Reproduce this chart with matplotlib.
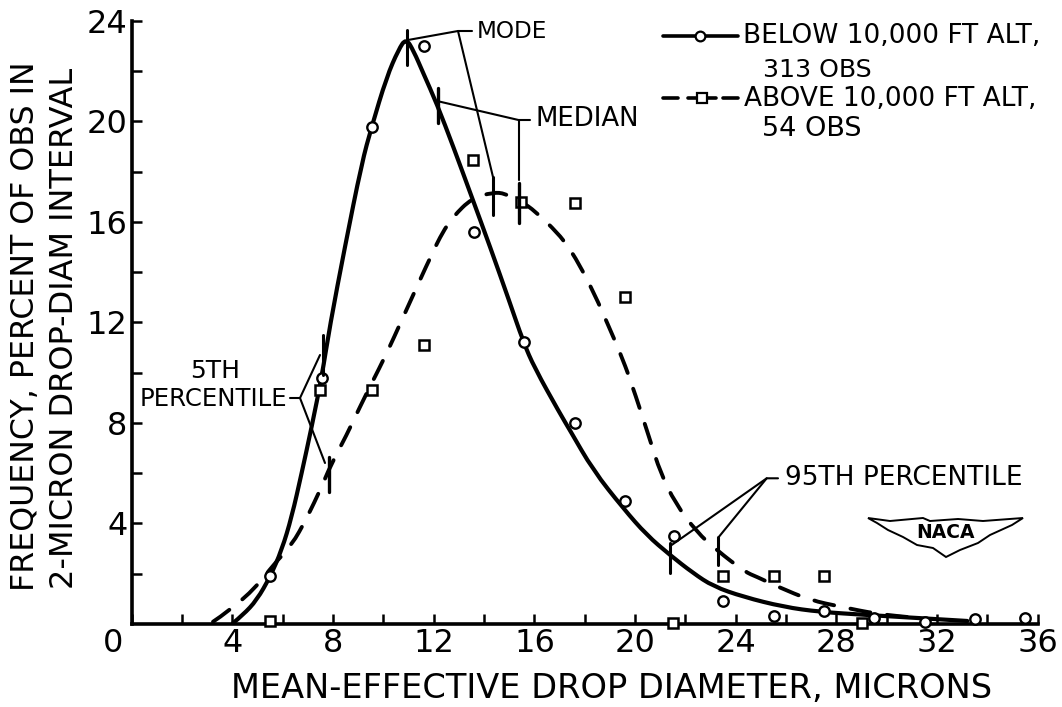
import matplotlib
matplotlib.use("Agg")
import matplotlib.pyplot as plt
from matplotlib.patches import Polygon, PathPatch
from matplotlib.path import Path
from matplotlib.transforms import ScaledTranslation

plt.rcParams['font.family'] = ['DejaVu Sans']

W, H = 1062, 707
# scattered observations
below_x = [5.5, 7.55, 9.55, 11.6, 13.6, 15.6, 17.6, 19.6, 21.55, 23.5, 25.5, 27.5, 29.5, 31.5, 33.5, 35.5]
below_y = [1.9, 9.8, 19.76, 23.0, 15.6, 11.2, 8.0, 4.9, 3.5, 0.9, 0.3, 0.5, 0.25, 0.08, 0.2, 0.25]
above_x = [5.5, 7.5, 9.55, 11.6, 13.55, 15.45, 17.6, 19.6, 21.5, 23.5, 25.5, 27.5, 29.0]
above_y = [0.1, 9.3, 9.3, 11.1, 18.45, 16.8, 16.75, 13.0, 0.05, 1.9, 1.9, 1.9, 0.05]
# faired curves
curve_below_x = [4.03, 4.42, 4.97, 5.5, 5.96, 6.36, 6.75, 7.15, 7.55, 7.88, 8.47, 9.14, 9.53, 10.13, 10.6, 10.9,
                 11.2, 11.59, 12.12, 12.78, 13.51, 14.24, 15.0, 15.56, 16.0, 17.0, 17.41, 18.33, 19.53, 20.46,
                 21.39, 22.3, 23.1, 24.3, 25.9, 27.35, 29.2, 31.2, 33.2]
curve_below_y = [0.04, 0.36, 0.95, 1.88, 2.94, 4.27, 5.99, 7.84, 9.83, 11.9, 15.0, 18.33, 19.77, 21.76, 22.85, 23.3,
                 22.8, 21.9, 20.7, 18.98, 16.99, 15.0, 12.85, 11.22, 10.2, 8.4, 7.71, 6.12, 4.6, 3.54,
                 2.74, 2.03, 1.5, 1.08, 0.68, 0.48, 0.36, 0.24, 0.12]
curve_above_x = [3.23, 3.83, 4.97, 5.62, 6.36, 6.95, 7.55, 7.88, 8.54, 9.07, 9.53, 10.13, 10.73, 12.05, 12.45, 12.77,
                 13.51, 14.36, 14.83, 15.5, 16.02, 16.94, 17.34, 17.73, 18.4, 18.93, 19.4, 19.82, 20.6, 21.0,
                 21.6, 22.45, 23.24, 24.37, 24.83, 25.7, 26.95, 28.2, 29.6, 31.2]
curve_above_y = [0.09, 0.49, 1.48, 2.35, 3.14, 4.2, 5.46, 6.26, 7.52, 8.64, 9.57, 10.76, 12.09, 15.0, 15.74, 16.2,
                 16.94, 17.17, 17.13, 16.79, 16.43, 15.54, 15.0, 14.4, 13.1, 11.89, 10.8, 9.7, 7.3, 6.04,
                 4.8, 3.66, 2.94, 2.07, 1.88, 1.47, 0.95, 0.68, 0.4, 0.24]
x_ticks = list(range(0, 37, 2))
x_labels = ['0', '', '4', '', '8', '', '12', '', '16', '', '20', '', '24', '', '28', '', '32', '', '36']
y_ticks = list(range(2, 25, 2))
y_labels = ['', '4', '', '8', '', '12', '', '16', '', '20', '', '24']


def smooth_path(xs, ys):
    """Quadratic Bezier path with the read points as control points."""
    verts = [(xs[0], ys[0])]
    codes = [Path.MOVETO]
    for i in range(1, len(xs) - 1):
        end = ((xs[i] + xs[i + 1]) / 2, (ys[i] + ys[i + 1]) / 2)
        verts += [(xs[i], ys[i]), end]
        codes += [Path.CURVE3, Path.CURVE3]
    verts.append((xs[-1], ys[-1]))
    codes.append(Path.LINETO)
    return Path(verts, codes)


fig = plt.figure(figsize=(W / 100, H / 100), dpi=100, facecolor='white')
L, R, T, B = 131.7, 1037.8, 20.7, 624.0
ax = fig.add_axes([L / W, 1 - B / H, (R - L) / W, (B - T) / H])
ax.set_xlim(0, 36)
ax.set_ylim(0, 24)
ax.patch.set_alpha(0)
for s in ('top', 'right'):
    ax.spines[s].set_visible(False)
for s in ('left', 'bottom'):
    ax.spines[s].set_linewidth(2.6)
ax.set_xticks(x_ticks, x_labels, fontsize=23)
ax.set_yticks(y_ticks, y_labels, fontsize=23)
ax.tick_params(direction='in', length=7, width=1.8, pad=3)
ax.get_xticklabels()[0].set_transform(
    ax.get_xticklabels()[0].get_transform() + ScaledTranslation(-18.5 / 100, 0, fig.dpi_scale_trans))

ax.add_patch(PathPatch(smooth_path(curve_below_x, curve_below_y), fc='none', ec='black', lw=3.0,
                       capstyle='round', joinstyle='round', zorder=3, clip_on=False))
ax.add_patch(PathPatch(smooth_path(curve_above_x, curve_above_y), fc='none', ec='black', lw=2.8,
                       ls=(0, (5.2, 4.3)), capstyle='round', joinstyle='round', zorder=3, clip_on=False))
ax.plot(below_x, below_y, 'o', ms=7.5, mfc='white', mec='black', mew=1.7, ls='none', clip_on=False, zorder=5)
ax.plot(above_x, above_y, 's', ms=7.5, mfc='white', mec='black', mew=1.8, ls='none', clip_on=False, zorder=5)

ov = fig.add_axes([0, 0, 1, 1])
ov.set_xlim(0, W)
ov.set_ylim(H, 0)
ov.axis('off')
ov.patch.set_alpha(0)


def leader(xs, ys, lw=1.5):
    ov.plot(xs, ys, color='black', lw=lw, solid_capstyle='round', zorder=4)


fs = 19
# axis titles
ov.text(612, 688, 'MEAN-EFFECTIVE DROP DIAMETER, MICRONS', fontsize=24.2, ha='center', va='center')
ov.text(25.5, 326, 'FREQUENCY, PERCENT OF OBS IN', fontsize=22.8, rotation=90, ha='center', va='center')
ov.text(65, 328, '2-MICRON DROP-DIAM INTERVAL', fontsize=23, rotation=90, ha='center', va='center')

# mode
leader([406.7, 406.7], [30, 65], 2.2)
leader([493, 493], [177, 215], 2.2)
leader([408, 458, 472], [40, 31, 31])
leader([458, 493], [31, 177])
ov.text(477, 32, 'MODE', fontsize=16.7, va='center')
# median
leader([438.3, 438.3], [88, 123], 2.4)
leader([519, 519], [183, 223], 2.4)
leader([440, 518.5, 530], [101.7, 120, 120])
leader([519, 519], [120, 180])
ov.text(535, 119, 'MEDIAN', fontsize=18.7, va='center')
# 5th percentile
leader([322.7, 322.7], [335, 375], 2.2)
leader([329, 329], [457, 492], 2.4)
leader([320, 300, 325], [355, 398, 463])
leader([290, 300], [398, 398])
ov.text(215, 370.5, '5TH', fontsize=18, ha='center', va='center')
ov.text(213.5, 399, 'PERCENTILE', fontsize=17.6, ha='center', va='center')
# 95th percentile
leader([670, 670], [543, 573], 2.2)
leader([717.7, 717.7], [537, 565], 2.2)
leader([671.7, 766.7, 778], [545, 478.3, 478.3])
leader([766.7, 719], [478.3, 536.7])
ov.text(785, 478, '95TH PERCENTILE', fontsize=fs, va='center')

# legend
ov.plot([663, 738], [36, 36], color='black', lw=2.6, solid_capstyle='round')
ov.plot([700], [36], 'o', ms=7, mfc='white', mec='black', mew=1.6)
for seg in ([663, 678], [688, 716], [723, 738]):
    ov.plot(seg, [98, 98], color='black', lw=2.6, solid_capstyle='round')
ov.plot([702], [98], 's', ms=7, mfc='white', mec='black', mew=1.6)
ov.text(743, 36, 'BELOW 10,000 FT ALT,', fontsize=fs, va='center')
ov.text(763, 70, '313 OBS', fontsize=18.2, va='center')
ov.text(744, 99, 'ABOVE 10,000 FT ALT,', fontsize=fs, va='center')
ov.text(762, 129, '54 OBS', fontsize=19.5, va='center')

# NACA wing
wing_x = [868, 890, 923, 930, 958, 983, 1023, 1012, 990, 978, 960, 946, 933, 917, 903, 888, 877]
wing_y = [518, 521, 518, 521, 519, 521, 518, 525, 535, 543, 550, 557, 548, 545, 537, 530, 523]
ov.add_patch(Polygon(list(zip(wing_x, wing_y)), closed=True, fc='white', ec='black', lw=1.4))
ov.text(945, 533, 'NACA', fontsize=13.5, fontweight='bold', ha='center', va='center')

fig.savefig('out.png', dpi=100, facecolor='white')
